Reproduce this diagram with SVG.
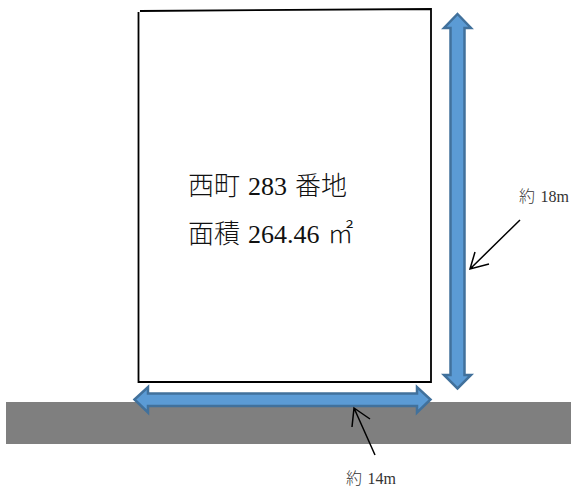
<svg xmlns="http://www.w3.org/2000/svg" width="571" height="488" viewBox="0 0 571 488">
<style>
text{font-family:"Liberation Serif","Noto Sans CJK JP",serif;fill:#111}
.big{font-size:26px;word-spacing:1.500px;font-weight:300}
.small{font-size:16px;word-spacing:1.500px;fill:#333;font-weight:300}
.arrow{fill:#5b9bd5;stroke:#41719c;stroke-width:2.500}
.edge{fill:none;stroke:#000;stroke-width:1.800}
.line{fill:none;stroke:#000;stroke-width:1.500}
</style>
<rect width="571" height="488" fill="#fff"/>
<g id="road"><rect x="6" y="402" width="565" height="42" fill="#7f7f7f"/></g>
<g id="lot">
<path class="edge" d="M140 11L431 9V382H138.500V12"/>
<text class="big" x="188" y="195">西町 283 番地</text>
<text class="big" x="188" y="243">面積 264.46 ㎡</text>
</g>
<g id="connectors">
<path class="arrow" d="M134.500 399.500L148 387V393.500H417V387L430.500 399.500L417 412.500V406H148V412.500Z"/>
<path class="arrow" d="M457.500 14L471 28H464.500V375H471L457.500 388.500L444 375H450.500V28H444Z"/>
<path class="line" d="M520 220L470 269M475 252L470 269L489 264"/>
<path class="line" d="M375 455L354 408M352 427L354 408L370 419"/>
</g>
<g id="labels">
<text class="small" x="519" y="202">約 18m</text>
<text class="small" x="346" y="484">約 14m</text>
</g>
</svg>
